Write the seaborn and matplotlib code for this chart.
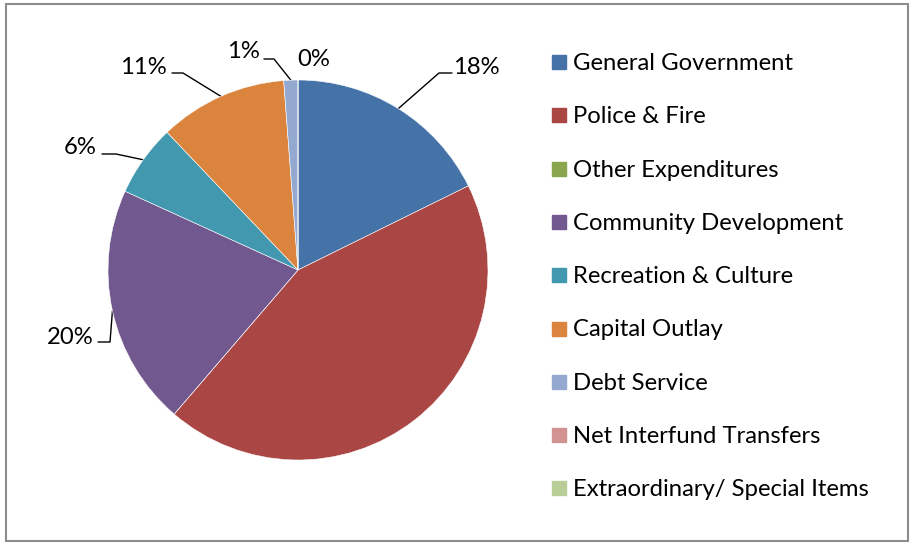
import matplotlib.pyplot as plt
import numpy as np
import seaborn as sns
from matplotlib.patches import Rectangle

categories = [
    "General Government",
    "Police & Fire",
    "Other Expenditures",
    "Community Development",
    "Recreation & Culture",
    "Capital Outlay",
    "Debt Service",
    "Net Interfund Transfers",
    "Extraordinary/ Special Items",
]
shares = [17.7, 43.6, 0.0, 20.5, 6.1, 10.9, 1.2, 0.0, 0.0]
pct_labels = ["18%", "44%", "0%", "20%", "6%", "11%", "1%", "0%", "0%"]
colors = ["#4572A7", "#AA4643", "#89A54E", "#71588F", "#4198AF",
          "#DB843D", "#93A9CF", "#D19392", "#B9CD96"]

sns.set_theme(style="white")
plt.rcParams["font.family"] = ["Lato", "DejaVu Sans"]

W, H = 910, 544
FS = 17.2
fig = plt.figure(figsize=(W / 100, H / 100), dpi=100)
ax = fig.add_axes([0, 0, 1, 1])
ax.set_xlim(0, W)
ax.set_ylim(H, 0)
ax.axis("off")

cx, cy, r = 298, 270, 190
# pie drawn in its own axes so orientation is standard (y up)
pax = fig.add_axes([(cx - r) / W, (H - cy - r) / H, 2 * r / W, 2 * r / H])
pax.pie(shares, colors=colors, startangle=90, counterclock=False, radius=1,
        wedgeprops=dict(linewidth=0.4, edgecolor="white"))
pax.set_xlim(-1, 1)
pax.set_ylim(-1, 1)
pax.set_aspect("auto")
pax.axis("off")

# label layout: text centre and elbow points in pixel coords, y down
label_layout = {
    0: dict(text=(476, 67), path=[(452, 73), (439, 73)]),
    1: dict(text=(397, 386), path=None),
    3: dict(text=(70, 337), path=[(98, 342), (110, 342)]),
    4: dict(text=(80, 148), path=[(102, 154), (116, 154)]),
    5: dict(text=(143, 67), path=[(172, 73), (183, 73)]),
    6: dict(text=(243, 51), path=[(264, 59), (274, 59)]),
    8: dict(text=(314, 60), path=None),
}

cum = np.cumsum([0] + shares)
for i, spec in label_layout.items():
    tx, ty = spec["text"]
    ax.text(tx, ty, pct_labels[i], ha="center", va="center", fontsize=FS, color="black")
    if spec["path"]:
        mid = (cum[i] + cum[i + 1]) / 2 / 100 * 2 * np.pi
        ex, ey = cx + r * np.sin(mid), cy - r * np.cos(mid)
        xs = [p[0] for p in spec["path"]] + [ex]
        ys = [p[1] for p in spec["path"]] + [ey]
        ax.plot(xs, ys, color="black", lw=1)

# legend
for k, (name, col) in enumerate(zip(categories, colors)):
    y = 62 + k * 53.3
    ax.add_patch(Rectangle((552, y - 7), 14, 14, color=col))
    ax.text(573, y + 1.5, name, va="center", ha="left", fontsize=FS, color="black")

# outer frame
ax.add_patch(Rectangle((5.5, 3.5), W - 8, H - 6.5, fill=False, edgecolor="#8C8C8C", lw=1.5))

fig.savefig("out.png", dpi=100)
